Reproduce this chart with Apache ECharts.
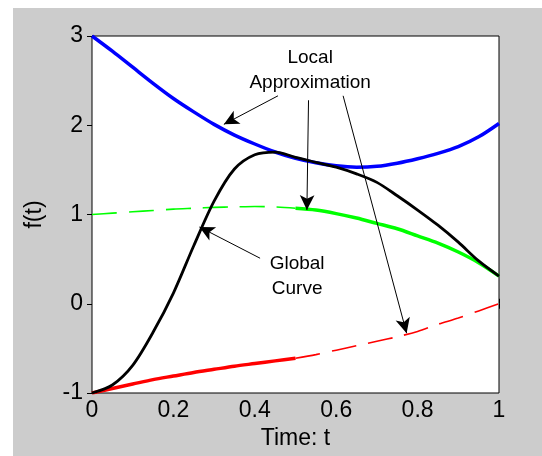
<!DOCTYPE html>
<html>
<head>
<meta charset="utf-8">
<script src="https://cdn.jsdelivr.net/npm/echarts@6/dist/echarts.min.js"></script>
<style>
html,body{margin:0;padding:0;background:#fff;}
#c{width:542px;height:456px;}
</style>
</head>
<body>
<div id="c"></div>
<script>
// ---- data ----
const tValues = [0,0.05,0.1,0.15,0.2,0.25,0.3,0.35,0.4,0.45,0.5,0.55,0.6,0.65,0.7,0.75,0.8,0.85,0.9,0.95,1.0];
const globalCurve = [-1.00,-0.91,-0.69,-0.32,0.12,0.65,1.15,1.51,1.67,1.70,1.64,1.585,1.53,1.455,1.36,1.21,1.05,0.88,0.69,0.48,0.31];
const blueApprox  = [3.00,2.83,2.65,2.47,2.30,2.15,2.01,1.89,1.79,1.70,1.63,1.58,1.545,1.53,1.54,1.575,1.625,1.685,1.76,1.87,2.02];
const greenApprox = [1.00,1.015,1.03,1.045,1.06,1.07,1.08,1.085,1.09,1.085,1.07,1.05,1.01,0.96,0.90,0.84,0.76,0.68,0.58,0.46,0.31];
const redApprox   = [-1.00,-0.95,-0.90,-0.85,-0.81,-0.77,-0.735,-0.70,-0.67,-0.64,-0.61,-0.57,-0.52,-0.47,-0.42,-0.37,-0.31,-0.23,-0.16,-0.08,0.00];
const xTickLabels = ['0','0.2','0.4','0.6','0.8','1'];
const yTickLabels = ['-1','0','1','2','3'];
// annotation arrows: [startT, startF, endT, endF]
const arrows = [
  [0.457, 2.33, 0.324, 2.01],
  [0.532, 2.28, 0.528, 1.05],
  [0.617, 2.33, 0.773, -0.33],
  [0.413, 0.51, 0.264, 0.86]
];
// annotation texts: [text, t, f]
const notes = [
  ['Local', 0.536, 2.76],
  ['Approximation', 0.536, 2.48],
  ['Global', 0.504, 0.45],
  ['Curve', 0.504, 0.17]
];
const splitIndex = 10;

// ---- chart ----
const pairs = (ys, a, b) => tValues.slice(a, b).map((t, i) => [t, ys[a + i]]);
const FONT = '"Liberation Sans", Arial, sans-serif';
const chart = echarts.init(document.getElementById('c'), null, {renderer: 'canvas'});

const thick = 3.5, thin = 1.6, dash = [25, 12];
function lineSeries(name, data, color, width, type, z) {
  return {
    name, type: 'line', data, smooth: 0.3, symbol: 'none', showSymbol: false,
    lineStyle: {color, width, type}, z: z || 2, silent: true, animation: false
  };
}

const option = {
  animation: false,
  backgroundColor: '#ffffff',
  grid: {left: 92, right: 43, top: 36, bottom: 63, show: true, backgroundColor: '#ffffff', borderColor: '#000', borderWidth: 1, z: 1},
  xAxis: [{
    type: 'value', min: 0, max: 1, interval: 0.2,
    name: 'Time: t', nameLocation: 'middle', nameGap: 34,
    nameTextStyle: {fontFamily: FONT, fontSize: 23, color: '#000'},
    axisLine: {show: true, lineStyle: {color: '#000', width: 1}},
    axisTick: {show: true, inside: true, length: 5, lineStyle: {color: '#000'}},
    axisLabel: {fontFamily: FONT, fontSize: 23, color: '#000', margin: 6,
      formatter: (v) => xTickLabels[Math.round(v / 0.2)]},
    splitLine: {show: false}
  }, {
    type: 'value', min: 0, max: 1, interval: 0.2, position: 'top',
    axisLine: {show: true, lineStyle: {color: '#000'}},
    axisTick: {show: true, inside: true, length: 5, lineStyle: {color: '#000'}},
    axisLabel: {show: false}, splitLine: {show: false}
  }],
  yAxis: [{
    type: 'value', min: -1, max: 3, interval: 1,
    name: 'f(t)', nameLocation: 'middle', nameGap: 46, nameRotate: 90,
    nameTextStyle: {fontFamily: FONT, fontSize: 23, color: '#000'},
    axisLine: {show: true, lineStyle: {color: '#000', width: 1}},
    axisTick: {show: true, inside: true, length: 5, lineStyle: {color: '#000'}},
    axisLabel: {fontFamily: FONT, fontSize: 23, color: '#000', margin: 9,
      formatter: (v) => yTickLabels[Math.round(v + 1)]},
    splitLine: {show: false}
  }, {
    type: 'value', min: -1, max: 3, interval: 1, position: 'right',
    axisLine: {show: true, lineStyle: {color: '#000'}},
    axisTick: {show: true, inside: true, length: 5, lineStyle: {color: '#000'}},
    axisLabel: {show: false}, splitLine: {show: false}
  }],
  series: [
    lineSeries('blue', pairs(blueApprox, 0, tValues.length), '#0000ff', thick, 'solid', 2),
    lineSeries('greenDash', pairs(greenApprox, 0, splitIndex + 1), '#00ff00', thin, dash, 2),
    lineSeries('greenSolid', pairs(greenApprox, splitIndex, tValues.length), '#00ff00', thick, 'solid', 2),
    lineSeries('redSolid', pairs(redApprox, 0, splitIndex + 1), '#ff0000', thick, 'solid', 2),
    lineSeries('redDash', pairs(redApprox, splitIndex, tValues.length), '#ff0000', thin, dash, 2),
    Object.assign(lineSeries('global', pairs(globalCurve, 0, tValues.length), '#000000', 2.8, 'solid', 3), {
      markLine: {
        silent: true, animation: false,
        symbol: ['none', 'arrow'], symbolSize: [11, 15],
        label: {show: false},
        lineStyle: {color: '#000', width: 1, type: 'solid'},
        emphasis: {disabled: true},
        data: arrows.map(a => [{coord: [a[0], a[1]]}, {coord: [a[2], a[3]]}])
      }
    })
  ]
};
chart.setOption(option);

// gray figure background and annotation texts
const graphics = [{
  type: 'rect', left: 13, top: 8, shape: {x: 0, y: 0, width: 529, height: 448},
  style: {fill: '#cccccc'}, z: -10, silent: true
}];
notes.forEach(n => {
  const p = chart.convertToPixel({gridIndex: 0}, [n[1], n[2]]);
  graphics.push({
    type: 'text', x: p[0], y: p[1], z: 100, silent: true,
    style: {text: n[0], fontFamily: FONT, fontSize: 19, fill: '#000', align: 'center', verticalAlign: 'middle'}
  });
});
chart.setOption({graphic: graphics});
</script>
</body>
</html>
